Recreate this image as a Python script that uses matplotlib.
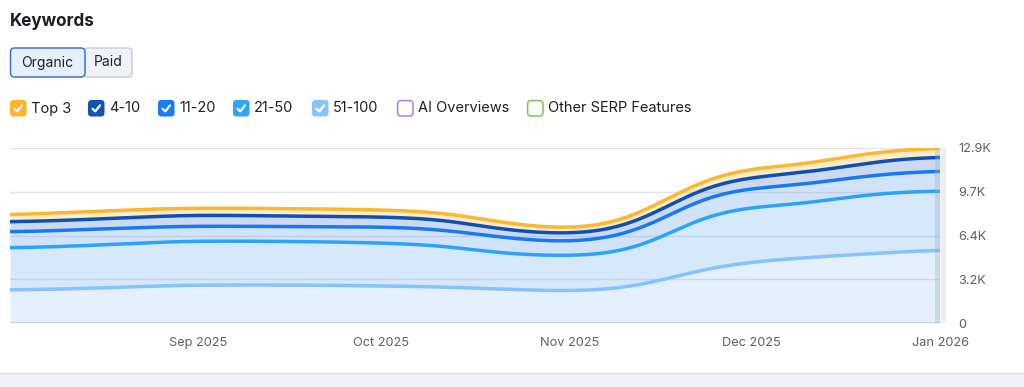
import numpy as np
import matplotlib
matplotlib.use("Agg")
import matplotlib.pyplot as plt
import matplotlib.dates as mdates
from matplotlib.patches import FancyBboxPatch, Rectangle
from datetime import datetime

plt.rcParams['font.family'] = ['Inter', 'DejaVu Sans']

# ---------------- data ----------------
dates = ["2025-08-01", "2025-08-16", "2025-09-01", "2025-09-16", "2025-10-01",
         "2025-10-12", "2025-10-20", "2025-11-01", "2025-11-09", "2025-11-16",
         "2025-11-23", "2025-12-01", "2025-12-09", "2025-12-17", "2025-12-25",
         "2026-01-01"]
pos_51_100 = [2430, 2580, 2800, 2800, 2730, 2650, 2510, 2360, 2510, 3100,
              3980, 4500, 4790, 5010, 5230, 5380]
pos_21_50 = [3100, 3170, 3240, 3210, 3170, 3020, 2650, 2580, 2650, 3100,
             3910, 4050, 3980, 4280, 4420, 4350]
pos_11_20 = [1180, 1180, 1100, 1100, 1180, 1180, 1180, 1030, 1180, 1330,
             1400, 1400, 1400, 1400, 1400, 1480]
pos_4_10 = [740, 740, 810, 770, 740, 740, 590, 590, 590, 740,
            740, 810, 880, 880, 1030, 1030]
top_3 = [520, 590, 520, 550, 520, 520, 520, 400, 440, 590,
         520, 660, 590, 740, 660, 660]

series_names = ["51-100", "21-50", "11-20", "4-10", "Top 3"]
line_colors = ["#86c2fb", "#2ba3fb", "#1779f5", "#0d4fb5", "#fdb62f"]
fill_colors = ["#e4f0fd", "#d5e8fc", "#d1e3fa", "#cbdaf1", "#fdecc8"]

y_ticks = [0, 3225, 6450, 9675, 12900]
y_tick_labels = ["0", "3.2K", "6.4K", "9.7K", "12.9K"]
x_ticks = ["2025-09-01", "2025-10-01", "2025-11-01", "2025-12-01", "2026-01-01"]
x_tick_labels = ["Sep 2025", "Oct 2025", "Nov 2025", "Dec 2025", "Jan 2026"]

legend_items = [("Top 3", "#fbb42c", True), ("4-10", "#1552b8", True),
                ("11-20", "#1a7af8", True), ("21-50", "#2ea3fb", True),
                ("51-100", "#88c4fc", True), ("AI Overviews", "#a97cf5", False),
                ("Other SERP Features", "#7cc45a", False)]


def pchip(x, y, xn):
    x = np.asarray(x, float); y = np.asarray(y, float)
    h = np.diff(x); d = np.diff(y) / h
    m = np.zeros_like(y)
    for k in range(1, len(y) - 1):
        if d[k - 1] * d[k] > 0:
            w1 = 2 * h[k] + h[k - 1]; w2 = h[k] + 2 * h[k - 1]
            m[k] = (w1 + w2) / (w1 / d[k - 1] + w2 / d[k])
    m[0] = d[0] * 0.5; m[-1] = d[-1] * 0.5
    idx = np.clip(np.searchsorted(x, xn) - 1, 0, len(h) - 1)
    t = (xn - x[idx]) / h[idx]
    h00 = 2 * t**3 - 3 * t**2 + 1; h10 = t**3 - 2 * t**2 + t
    h01 = -2 * t**3 + 3 * t**2; h11 = t**3 - t**2
    return h00 * y[idx] + h10 * h[idx] * m[idx] + h01 * y[idx + 1] + h11 * h[idx] * m[idx + 1]


def smooth(v, step, sigma_days=4.5):
    s = sigma_days / step
    n = int(3 * s)
    k = np.exp(-0.5 * (np.arange(-n, n + 1) / s) ** 2)
    k /= k.sum()
    vp = np.concatenate([np.full(n, v[0]), v, np.full(n, v[-1])])
    return np.convolve(vp, k, mode="valid")


W, H = 1024, 387
fig = plt.figure(figsize=(W / 100, H / 100), dpi=100)

# overlay in pixel coords
ov = fig.add_axes([0, 0, 1, 1])
ov.set_xlim(0, W); ov.set_ylim(H, 0); ov.axis("off")

ov.text(10, 22, "Keywords", fontsize=12.3, fontweight="bold", color="#1b1c21", va="center", ha="left")

# toggle buttons
ov.add_patch(FancyBboxPatch((84, 48), 48, 29, boxstyle="round,pad=0,rounding_size=4",
                            fc="#f1f2f7", ec="#c6c9d3", lw=1))
ov.add_patch(FancyBboxPatch((10.5, 48), 74.5, 29, boxstyle="round,pad=0,rounding_size=4",
                            fc="#e6f0fd", ec="#3a74d6", lw=1.1))
ov.text(47, 62.5, "Organic", fontsize=10, color="#1f2024", ha="center", va="center")
ov.text(108, 62.5, "Paid", fontsize=10, color="#1f2024", ha="center", va="center")

# legend
box_x = [10, 88, 158, 233, 312, 397, 527]
for (name, col, checked), bx in zip(legend_items, box_x):
    if checked:
        ov.add_patch(FancyBboxPatch((bx, 100), 16.5, 16.5, boxstyle="round,pad=0,rounding_size=3.5",
                                    fc=col, ec="none"))
        ov.plot([bx + 4.6, bx + 7.3, bx + 12.0], [108.8, 111.4, 105.4], color="white",
                lw=1.6, solid_capstyle="round", solid_joinstyle="round")
    else:
        ov.add_patch(FancyBboxPatch((bx + 0.6, 100.6), 15.4, 15.4, boxstyle="round,pad=0,rounding_size=3.5",
                                    fc="white", ec=col, lw=1.1))
    ov.text(bx + 21, 108.5, name, fontsize=10.5, color="#1f2024", ha="left", va="center")

# bottom band
ov.add_patch(Rectangle((0, 373.5), W, 14, fc="#f1f2f6", ec="none"))
ov.plot([0, W], [373, 373], color="#e0e2e8", lw=1)
# hover column light band
ov.add_patch(Rectangle((941, 148), 5, 175, fc="#eceef2", ec="none"))

# ---------------- chart ----------------
ax = fig.add_axes([10 / W, (H - 323) / H, 930 / W, 175 / H])
ax.patch.set_alpha(0)

xd = np.array([mdates.date2num(datetime.strptime(d, "%Y-%m-%d")) for d in dates])
xs = np.linspace(xd[0], xd[-1], 800)
step = xs[1] - xs[0]
cum = np.cumsum(np.array([pos_51_100, pos_21_50, pos_11_20, pos_4_10, top_3], float), axis=0)
curves = [smooth(pchip(xd, c, xs), step) for c in cum]

prev = np.zeros_like(xs)
for i, cv in enumerate(curves):
    ax.fill_between(xs, prev, cv, color=fill_colors[i], lw=0, zorder=1)
    prev = cv

for yt in y_ticks[1:]:
    ax.axhline(yt, color="#8a93a8", alpha=0.25, lw=1, zorder=2)
ax.axhline(0, color="#c6cad4", lw=1.2, zorder=2)

for i, cv in enumerate(curves):
    ax.plot(xs, cv, color=line_colors[i], lw=2.5, zorder=3 + i, solid_capstyle="butt")

# hover cursor column
end = xd[-1]
ax.axvspan(end - 0.8, end, color="#9fb0c6", alpha=0.35, lw=0, zorder=8)

ax.set_xlim(xd[0], xd[-1])
ax.set_ylim(0, 12900)
for s in ax.spines.values():
    s.set_visible(False)

ax.yaxis.tick_right()
ax.set_yticks(y_ticks)
ax.set_yticklabels(y_tick_labels)
ax.tick_params(axis="y", length=0, pad=13, labelsize=9.2, labelcolor="#5d5f6a")
ax.set_xticks([mdates.date2num(datetime.strptime(d, "%Y-%m-%d")) for d in x_ticks])
ax.set_xticklabels(x_tick_labels)
ax.tick_params(axis="x", length=0, pad=10, labelsize=9.2, labelcolor="#5d5f6a")

fig.savefig("out.png", dpi=100)
